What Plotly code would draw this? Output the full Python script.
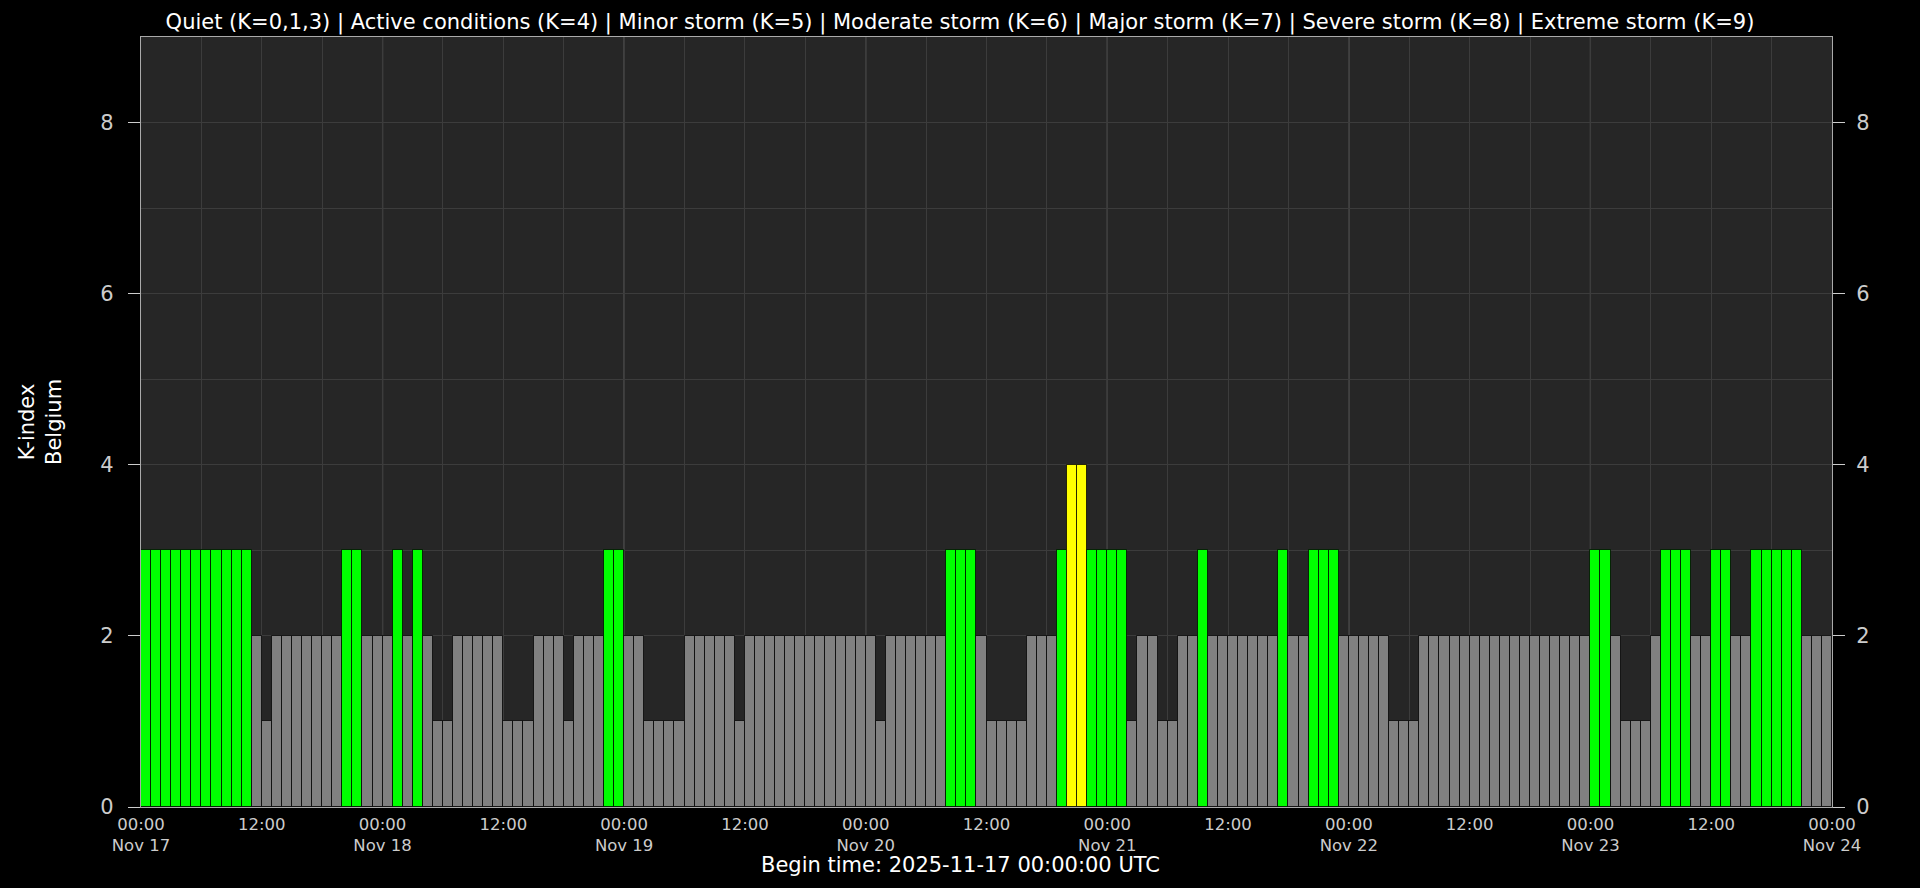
import plotly.graph_objects as go
import pandas as pd

# ---------------- data ----------------
begin_time = "2025-11-17 00:00:00"
n_days = 7

# hourly local K-index (Belgium), 168 values starting at begin_time
k_values = (
    [3] * 11 + [2, 1] + [2] * 7 + [3, 3] + [2, 2, 2] + [3, 2, 3, 2]        # 0-28
    + [1, 1] + [2] * 5 + [1, 1, 1] + [2, 2, 2] + [1] + [2, 2, 2] + [3, 3]  # 29-47
    + [2, 2] + [1] * 4 + [2] * 5 + [1] + [2] * 13 + [1] + [2] * 6          # 48-79
    + [3, 3, 3] + [2] + [1] * 4 + [2, 2, 2] + [3] + [4, 4] + [3] * 4       # 80-97
    + [1] + [2, 2] + [1, 1] + [2, 2] + [3] + [2] * 7 + [3] + [2, 2]        # 98-115
    + [3, 3, 3] + [2] * 5 + [1, 1, 1] + [2] * 17                            # 116-143
    + [3, 3] + [2] + [1, 1, 1] + [2] + [3, 3, 3] + [2, 2] + [3, 3]          # 144-157
    + [2, 2] + [3] * 5 + [2, 2, 2]                                          # 158-167
)

title_text = ("Quiet (K=0,1,3) | Active conditions (K=4) | Minor storm (K=5) | "
              "Moderate storm (K=6) | Major storm (K=7) | Severe storm (K=8) | "
              "Extreme storm (K=9)")
y_title = "K-index<br>Belgium"
x_title = "Begin time: 2025-11-17 00:00:00 UTC"
y_tick_vals = [0, 2, 4, 6, 8]

k_palette = {0: "#808080", 1: "#808080", 2: "#808080", 3: "#00ff00",
             4: "#ffff00", 5: "#ffa500", 6: "#ff6600", 7: "#ff0000",
             8: "#cc0000", 9: "#990000"}

# ---------------- derived ----------------
times = pd.date_range(begin_time, periods=len(k_values), freq="h")
t0 = pd.Timestamp(begin_time)
t_end = t0 + pd.Timedelta(days=n_days)
tick_times = pd.date_range(t0, t_end, freq="12h")
tick_text = [t.strftime("%H:%M") + ("<br>" + t.strftime("%b %d") if t.hour == 0 else "")
             for t in tick_times]
minor_times = pd.date_range(t0, t_end, freq="6h")
day_times = pd.date_range(t0, t_end, freq="24h")
colors = [k_palette[k] for k in k_values]

FONT = "DejaVu Sans"
HOUR_MS = 3600 * 1000

fig = go.Figure()
fig.add_trace(go.Bar(
    x=times, y=k_values, width=HOUR_MS, offset=0,
    marker=dict(color=colors, line=dict(color="rgba(0,0,0,0.75)", width=1)),
    hoverinfo="x+y", showlegend=False,
))

shapes = [dict(type="line", xref="x", yref="paper", x0=d, x1=d, y0=0, y1=1,
               line=dict(color="#606060", width=1.2), layer="between")
          for d in day_times[1:-1]]

fig.update_layout(
    width=1920, height=888,
    paper_bgcolor="#000000", plot_bgcolor="#262626",
    margin=dict(l=141, r=88, t=37, b=81),
    bargap=0,
    font=dict(family=FONT, color="#cccccc", size=21),
    title=dict(text=title_text, x=0.5, xref="container", xanchor="center",
               y=1 - 22 / 888, yref="container", yanchor="middle",
               font=dict(family=FONT, size=21, color="#ffffff")),
    xaxis=dict(
        type="date", range=[t0, t_end],
        tickmode="array", tickvals=tick_times, ticktext=tick_text,
        tickfont=dict(size=16.5, color="#cccccc"),
        ticks="", ticklabelstandoff=2,
        showgrid=True, gridcolor="#3c3c3c", gridwidth=1,
        minor=dict(tickmode="array", tickvals=minor_times, showgrid=True,
                   gridcolor="#3c3c3c", gridwidth=1, ticks=""),
        showline=True, linecolor="#aaaaaa", linewidth=1.2, mirror=True,
        zeroline=False,
    ),
    yaxis=dict(
        range=[0, 9], tickmode="array", tickvals=y_tick_vals,
        ticks="outside", ticklen=12, tickcolor="#cccccc", tickwidth=1,
        tickfont=dict(size=21, color="#cccccc"), ticklabelstandoff=10,
        showgrid=True, gridcolor="#3c3c3c", gridwidth=1,
        minor=dict(tickmode="array", tickvals=list(range(0, 10)), showgrid=True,
                   gridcolor="#3c3c3c", gridwidth=1, ticks=""),
        showline=True, linecolor="#aaaaaa", linewidth=1.2, mirror=True,
        zeroline=False, fixedrange=True,
    ),
    yaxis2=dict(
        overlaying="y", side="right", range=[0, 9],
        tickmode="array", tickvals=y_tick_vals,
        ticks="outside", ticklen=12, tickcolor="#cccccc", tickwidth=1,
        tickfont=dict(size=21, color="#cccccc"), ticklabelstandoff=7,
        showgrid=False, zeroline=False, showline=False,
    ),
    shapes=shapes,
    annotations=[
        dict(text=y_title, xref="paper", yref="paper", x=0, y=0.5,
             xanchor="center", yanchor="middle", xshift=-101, textangle=-90,
             showarrow=False, font=dict(family=FONT, size=21, color="#ffffff")),
        dict(text=x_title, xref="paper", yref="paper", x=0.5, y=0,
             xanchor="center", yanchor="middle", xshift=-26, yshift=-58,
             showarrow=False, font=dict(family=FONT, size=21, color="#ffffff")),
    ],
)

# invisible trace to keep the right-hand axis alive
fig.add_trace(go.Scatter(x=[times[0]], y=[0], yaxis="y2", mode="markers",
                         marker=dict(opacity=0), hoverinfo="skip", showlegend=False))

fig.write_html(
    "out.html",
    config={"displayModeBar": False},
    post_script="document.body.style.margin='0';document.body.style.overflow='hidden';",
)
